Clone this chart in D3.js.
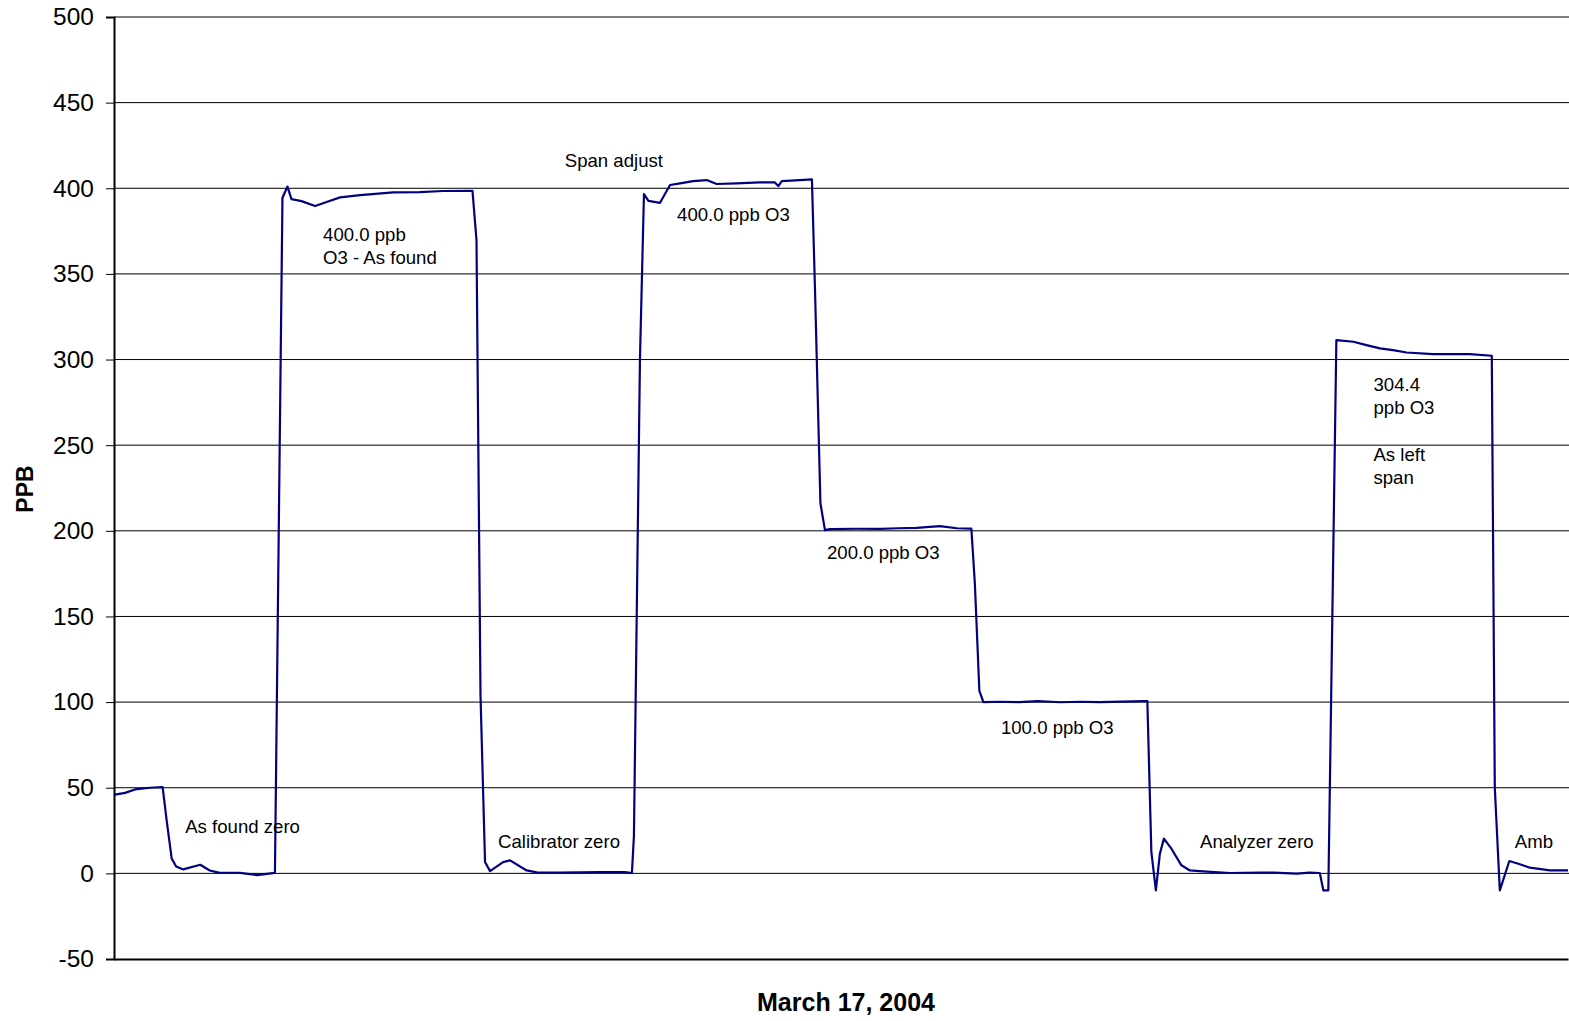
<!DOCTYPE html>
<html>
<head>
<meta charset="utf-8">
<script src="https://cdn.jsdelivr.net/npm/d3@7"></script>
<style>
  html, body { margin: 0; padding: 0; background: #fff; }
  svg { display: block; font-family: "Liberation Sans", Arial, sans-serif; }
</style>
</head>
<body>
<svg id="chart" width="1569" height="1021"></svg>
<script>
// Time in minutes from chart start
const times = [
  0, 0.2, 2.2, 4.2, 7.2, 9.7, 10.5, 11.5, 12.4, 13.8, 17.2, 19.1, 21.1, 25.1, 28.5, 32.1,
  33.6, 34.6, 35.4, 37.4, 40.1, 42.4, 45.1, 49.1, 55.7, 61.0, 65.6, 71.5,
  72.3, 73.1, 74.0, 75.0, 77.6, 79.0, 82.3, 84.3, 88.9, 96.9, 101.9, 103.3,
  103.7, 104.9, 105.7, 106.6, 108.9, 110.9, 112.9, 115.5, 118.2, 120.2, 124.2, 128.8, 131.8, 132.5, 133.2, 136.8, 139.2,
  139.8, 140.9, 141.8, 142.8, 147.8, 152.8, 156.5, 160.1, 164.7, 168.1, 171.0,
  171.7, 172.6, 173.4, 176.7, 180.5, 184.3, 188.7, 192.6, 196.6, 201.0, 205.6, 206.1,
  206.9, 207.8, 208.6, 209.4, 210.9, 212.9, 214.6, 217.2, 222.6, 228.6, 231.2, 235.9, 238.5, 240.5,
  241.2, 242.2,
  243.8, 247.2, 249.8, 252.5, 255.1, 257.8, 263.1, 270.4, 274.8,
  275.4, 276.4, 278.3, 280.4, 282.4, 286.4, 290
];
// Ozone concentration, ppb
const ppb = [
  45.6, 46, 47, 49, 50, 50.4, 31, 8.7, 4, 2.3, 5, 1.7, 0.3, 0.3, -1, 0.3,
  394.5, 401, 393.7, 392.5, 389.6, 392, 394.7, 396, 397.6, 397.7, 398.4, 398.5,
  369.7, 104, 6.6, 1.3, 6.6, 7.6, 1.7, 0.6, 0.4, 0.8, 0.8, 0.2,
  22, 300, 396.6, 392.6, 391.5, 401.9, 402.9, 404.2, 404.8, 402.5, 402.9, 403.4, 403.4, 401.3, 404.2, 404.8, 405.2,
  342.5, 216, 200.4, 201, 201.2, 201.1, 201.5, 201.7, 202.7, 201.5, 201.3,
  169.2, 106.5, 100, 100.2, 100.0, 100.6, 99.9, 100.2, 100, 100.3, 100.6, 100.6,
  12.5, -9.9, 11.5, 20.3, 14.4, 4.7, 1.7, 1.2, 0.2, 0.4, 0.4, -0.2, 0.4, 0.2,
  -9.9, -9.9,
  311.3, 310.4, 308.4, 306.5, 305.5, 304.1, 303.2, 303.2, 302.2,
  50, -9.9, 7.2, 5.3, 3.3, 1.7, 1.7
];

const yTicks = [-50, 0, 50, 100, 150, 200, 250, 300, 350, 400, 450, 500];

// Annotation labels and their anchor in data units (minutes, ppb)
const labelText = [
  ["As found zero"],
  ["400.0 ppb", "O3 - As found"],
  ["Calibrator zero"],
  ["Span adjust"],
  ["400.0 ppb O3"],
  ["200.0 ppb O3"],
  ["100.0 ppb O3"],
  ["Analyzer zero"],
  ["304.4", "ppb O3", "", "As left", "span"],
  ["Amb"]
];
const labelTime = [14.2, 41.7, 76.6, 89.9, 112.3, 142.2, 176.9, 216.6, 251.2, 279.4];
const labelPpb = [23.5, 369.2, 15, 412.2, 381, 183.4, 81.2, 14.8, 281.5, 15];

const xTitle = "March 17, 2004";
const yTitle = "PPB";

const svg = d3.select("#chart");
const mLeft = 114, mTop = 17, mBottom = 959, mRight = 1568;

const x = d3.scaleLinear().domain([0, 290]).range([mLeft, mRight]);
const y = d3.scaleLinear().domain([-50, 500]).range([mBottom, mTop]);

// gridlines
svg.append("g")
  .selectAll("line")
  .data(yTicks.filter(d => d !== -50))
  .join("line")
  .attr("x1", mLeft).attr("x2", 1569)
  .attr("y1", d => y(d)).attr("y2", d => y(d))
  .attr("stroke", "#000").attr("stroke-width", 1);

// y axis
const yAxis = svg.append("g")
  .attr("transform", `translate(${mLeft},0)`)
  .call(d3.axisLeft(y).tickValues(yTicks).tickSize(8).tickPadding(12).tickFormat(d => String(d)));
yAxis.select(".domain").attr("stroke", "#000").attr("stroke-width", 2);
yAxis.selectAll(".tick line").attr("stroke", "#000").attr("stroke-width", 1);
yAxis.selectAll(".tick text")
  .attr("font-size", "24.5px").attr("fill", "#000")
  .attr("font-family", "Liberation Sans, Arial, sans-serif");

// x axis line (no ticks)
const xAxis = svg.append("g")
  .attr("transform", `translate(0,${mBottom})`)
  .call(d3.axisBottom(x).tickValues([]).tickSizeOuter(0));
xAxis.select(".domain").attr("stroke", "#000").attr("stroke-width", 2);

// data line
const data = times.map((t, i) => ({ t, v: ppb[i] }));
svg.append("path")
  .datum(data)
  .attr("fill", "none")
  .attr("stroke", "#000080")
  .attr("stroke-width", 2.2)
  .attr("stroke-linejoin", "round")
  .attr("d", d3.line().x(d => x(d.t)).y(d => y(d.v)));

// annotations
labelText.forEach((lines, i) => {
  const t = svg.append("text")
    .attr("x", x(labelTime[i]))
    .attr("y", y(labelPpb[i]))
    .attr("font-size", "18.6px")
    .attr("fill", "#000");
  lines.forEach((ln, j) => {
    t.append("tspan")
      .attr("x", x(labelTime[i]))
      .attr("dy", j === 0 ? 0 : "1.25em")
      .text(ln === "" ? "\u00a0" : ln);
  });
});

// axis titles
svg.append("text")
  .attr("x", (mLeft + mRight) / 2 + 5)
  .attr("y", 1011)
  .attr("text-anchor", "middle")
  .attr("font-size", "25px")
  .attr("font-weight", "bold")
  .text(xTitle);

svg.append("text")
  .attr("transform", "translate(33,489) rotate(-90)")
  .attr("text-anchor", "middle")
  .attr("font-size", "23px")
  .attr("font-weight", "bold")
  .text(yTitle);
</script>
</body>
</html>
